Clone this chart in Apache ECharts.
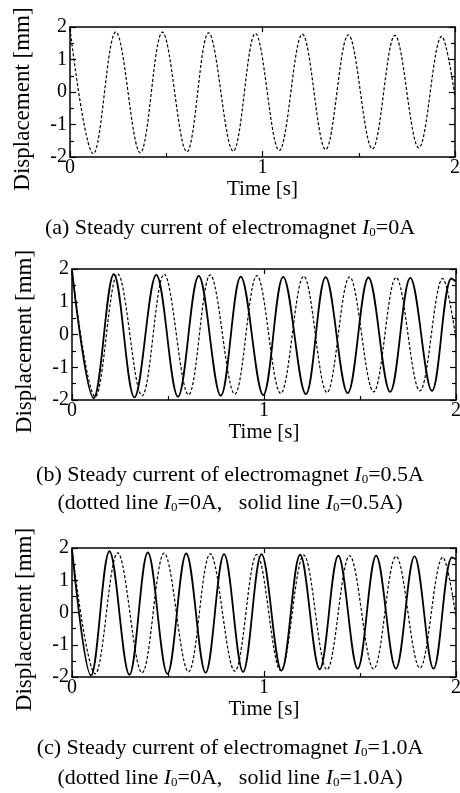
<!DOCTYPE html>
<html>
<head>
<meta charset="utf-8">
<script src="https://cdn.jsdelivr.net/npm/echarts@6/dist/echarts.min.js"></script>
<style>
  html, body { margin: 0; padding: 0; background: #fff; }
  #chart { width: 460px; height: 793px; }
</style>
</head>
<body>
<div id="chart"></div>
<script>
// dotted line I0 = 0A (same free vibration in all three panels), read at peaks / troughs
let t_dotted = [0, 0.121, 0.238, 0.365, 0.480, 0.607, 0.720, 0.848, 0.963, 1.087, 1.207, 1.328, 1.446, 1.571, 1.688, 1.812, 1.931, 2.0];
let y_dotted = [1.95, -1.90, 1.85, -1.87, 1.84, -1.84, 1.82, -1.82, 1.80, -1.80, 1.78, -1.77, 1.76, -1.75, 1.74, -1.72, 1.71, -0.15];

// solid line I0 = 0.5A
let t_solid_b = [0, 0.113, 0.218, 0.325, 0.439, 0.552, 0.660, 0.775, 0.879, 0.996, 1.100, 1.218, 1.321, 1.436, 1.544, 1.657, 1.762, 1.875, 1.976, 2.0];
let y_solid_b = [1.95, -1.94, 1.84, -1.92, 1.82, -1.90, 1.79, -1.87, 1.77, -1.85, 1.76, -1.82, 1.75, -1.79, 1.74, -1.75, 1.73, -1.72, 1.71, 1.62];

// solid line I0 = 1.0A
let t_solid_c = [0, 0.099, 0.195, 0.299, 0.395, 0.497, 0.595, 0.696, 0.792, 0.891, 0.987, 1.091, 1.188, 1.290, 1.387, 1.488, 1.584, 1.687, 1.784, 1.883, 1.979, 2.0];
let y_solid_c = [1.95, -1.95, 1.90, -1.93, 1.86, -1.90, 1.83, -1.87, 1.81, -1.84, 1.81, -1.80, 1.79, -1.76, 1.76, -1.74, 1.76, -1.74, 1.74, -1.74, 1.71, 1.65];

let x_range = [0, 2];
let y_range = [-2, 2];

let captions = [
    '(a) Steady current of electromagnet {i|I}{s|0}=0A',
    '(b) Steady current of electromagnet {i|I}{s|0}=0.5A',
    '(dotted line {i|I}{s|0}=0A,   solid line {i|I}{s|0}=0.5A)',
    '(c) Steady current of electromagnet {i|I}{s|0}=1.0A',
    '(dotted line {i|I}{s|0}=0A,   solid line {i|I}{s|0}=1.0A)'
];
let caption_tops = [217, 464, 492, 737, 767];

let serif = '"Liberation Serif", "DejaVu Serif", serif';
let chart = echarts.init(document.getElementById('chart'));

let grids = [
    {left: 70, top: 27, width: 385, height: 130, outerBoundsMode: 'none'},
    {left: 72, top: 269, width: 384, height: 131, outerBoundsMode: 'none'},
    {left: 72, top: 548, width: 384, height: 129, outerBoundsMode: 'none'}
];

function zip(ts, ys) {
    return ts.map((t, i) => [t, ys[i]]);
}

let frame_line = {show: true, onZero: false, lineStyle: {color: '#000', width: 1.5}};
let tick_in = {show: true, inside: true, length: 6, lineStyle: {color: '#000', width: 1.2}};
let minor_in = {show: true, splitNumber: 2, length: 4, lineStyle: {color: '#000', width: 1.2}};
let x_axes = [];
let y_axes = [];
grids.forEach((g, i) => {
    // bottom time axis
    x_axes.push({
        type: 'value', gridIndex: i, position: 'bottom',
        min: x_range[0], max: x_range[1], interval: 1,
        axisLine: frame_line,
        axisTick: tick_in,
        minorTick: minor_in,
        axisLabel: {color: '#000', fontFamily: serif, fontSize: 20, margin: 1},
        splitLine: {show: false},
        name: 'Time [s]', nameLocation: 'middle', nameGap: 21,
        nameTextStyle: {color: '#000', fontFamily: serif, fontSize: 21}
    });
    // top frame
    x_axes.push({
        type: 'value', gridIndex: i, position: 'top',
        min: x_range[0], max: x_range[1], interval: 1,
        axisLine: frame_line,
        axisTick: {show: true, inside: true, length: 5, lineStyle: {color: '#000', width: 1.2}},
        axisLabel: {show: false},
        splitLine: {show: false}
    });
    y_axes.push({
        type: 'value', gridIndex: i, position: 'left',
        min: y_range[0], max: y_range[1], interval: 1,
        axisLine: frame_line,
        axisTick: tick_in,
        minorTick: minor_in,
        axisLabel: {color: '#000', fontFamily: serif, fontSize: 20, margin: 3},
        splitLine: {show: false},
        name: 'Displacement [mm]', nameLocation: 'middle', nameGap: 36,
        nameTextStyle: {color: '#000', fontFamily: serif, fontSize: 23, padding: [0, 14, 0, 0]}
    });
    y_axes.push({
        type: 'value', gridIndex: i, position: 'right',
        min: y_range[0], max: y_range[1], interval: 1,
        axisLine: frame_line,
        axisTick: tick_in,
        minorTick: minor_in,
        axisLabel: {show: false},
        splitLine: {show: false}
    });
});

function make_line(idx, data, dotted) {
    return {
        type: 'line',
        xAxisIndex: idx * 2,
        yAxisIndex: idx * 2,
        data: data,
        smooth: 0.36,
        showSymbol: false,
        silent: true,
        lineStyle: dotted
            ? {color: '#000', width: 1.2, type: [3, 2]}
            : {color: '#000', width: 1.8}
    };
}

let rich_caption = {
    i: {fontFamily: serif, fontSize: 22, fontStyle: 'italic', color: '#000'},
    s: {fontFamily: serif, fontSize: 13, color: '#000', verticalAlign: 'bottom'}
};

let option = {
    backgroundColor: '#fff',
    animation: false,
    title: captions.map((c, i) => ({
        text: c,
        left: 'center',
        top: caption_tops[i],
        padding: 0,
        textStyle: {
            fontFamily: serif, fontSize: 22, fontWeight: 'normal', color: '#000',
            rich: rich_caption
        }
    })),
    grid: grids,
    xAxis: x_axes,
    yAxis: y_axes,
    series: [
        make_line(0, zip(t_dotted, y_dotted), true),
        make_line(1, zip(t_dotted, y_dotted), true),
        make_line(1, zip(t_solid_b, y_solid_b), false),
        make_line(2, zip(t_dotted, y_dotted), true),
        make_line(2, zip(t_solid_c, y_solid_c), false)
    ]
};

chart.setOption(option);
</script>
</body>
</html>
